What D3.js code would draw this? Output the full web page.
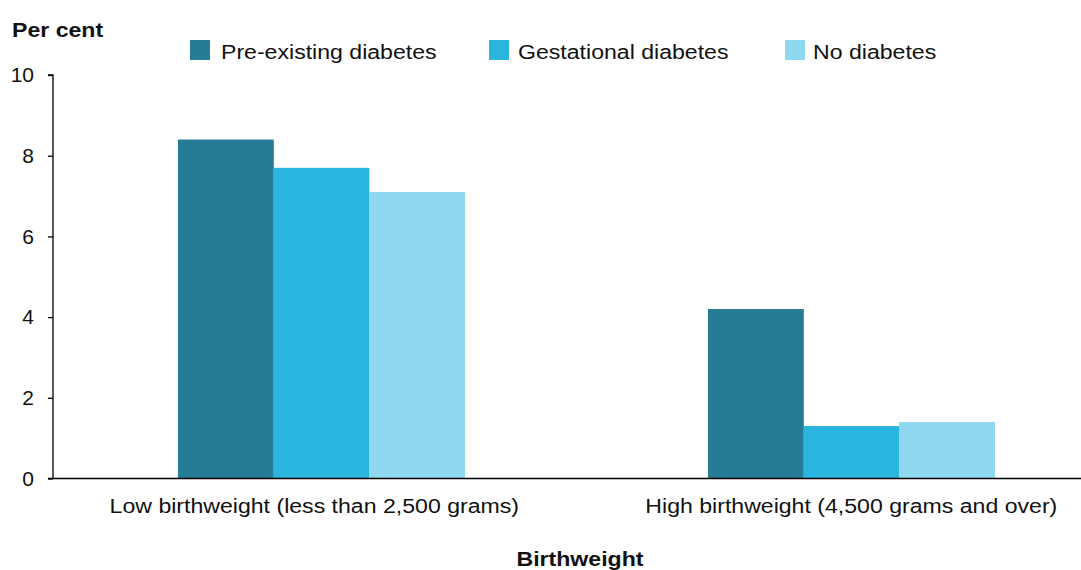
<!DOCTYPE html>
<html>
<head>
<meta charset="utf-8">
<script src="https://cdn.jsdelivr.net/npm/d3@7/dist/d3.min.js"></script>
<style>
  html, body { margin: 0; padding: 0; background: #fff; }
  svg { display: block; font-family: "Liberation Sans", Arial, sans-serif; }
</style>
</head>
<body>
<svg id="chart" width="1081" height="570"></svg>
<script>
// Birthweight outcomes by maternal diabetes status (per cent)
const categories = ["Low birthweight (less than 2,500 grams)", "High birthweight (4,500 grams and over)"];
const seriesNames = ["Pre-existing diabetes", "Gestational diabetes", "No diabetes"];
const preExisting = [8.4, 4.2];
const gestational = [7.7, 1.3];
const noDiabetes = [7.1, 1.4];
const yTicks = [0, 2, 4, 6, 8, 10];
const colours = ["#257C94", "#29B5DE", "#8ED8F0"];

const seriesValues = [preExisting, gestational, noDiabetes];
const rows = categories.map((c, i) => ({
  category: c,
  values: seriesNames.map((s, j) => ({ series: s, value: seriesValues[j][i] }))
}));

const svg = d3.select("#chart");
const textScaleX = 1.1;

const axisLeftX = 53, axisRightX = 1081;
const y = d3.scaleLinear().domain([0, 10]).range([478.5, 75]);

const x0 = d3.scaleBand()
  .domain(categories)
  .range([56.3, 1116.3])
  .paddingInner(0.459)
  .paddingOuter(0.2295);

const x1 = d3.scaleBand()
  .domain(seriesNames)
  .range([0, x0.bandwidth()])
  .padding(0);

const colour = d3.scaleOrdinal().domain(seriesNames).range(colours);

// Bars
const groups = svg.append("g").selectAll("g")
  .data(rows)
  .join("g")
  .attr("transform", d => `translate(${x0(d.category)},0)`);

groups.selectAll("rect")
  .data(d => d.values)
  .join("rect")
  .attr("x", d => x1(d.series))
  .attr("width", x1.bandwidth() + 0.3)
  .attr("y", d => y(d.value))
  .attr("height", d => y(0) - y(d.value))
  .attr("fill", d => colour(d.series));

// Y axis
const yAxis = d3.axisLeft(y).tickValues(yTicks).tickSize(5).tickPadding(14).tickFormat(d3.format("d"));
const yG = svg.append("g")
  .attr("transform", `translate(${axisLeftX},0)`)
  .call(yAxis);
yG.select(".domain").attr("d", `M-5,${y(10)}H0V${y(0)}`).attr("stroke", "#000").attr("stroke-width", 1.3);
yG.selectAll(".tick line").attr("stroke", "#000").attr("stroke-width", 1.3);
yG.selectAll(".tick text")
  .attr("fill", "#111")
  .style("font-size", "21px")
  .style("font-family", '"Liberation Sans", Arial, sans-serif');

// X axis baseline
svg.append("line")
  .attr("x1", axisLeftX - 5).attr("x2", axisRightX)
  .attr("y1", y(0)).attr("y2", y(0))
  .attr("stroke", "#000").attr("stroke-width", 1.3);

// Helper: horizontally widened text anchored at (px, py)
function label(px, py, str, opts) {
  const g = svg.append("g").attr("transform", `translate(${px},${py}) scale(${textScaleX},1)`);
  g.append("text")
    .attr("text-anchor", opts.anchor || "start")
    .attr("fill", "#111")
    .style("font-size", opts.size + "px")
    .style("font-weight", opts.bold ? "bold" : "normal")
    .text(str);
  return g;
}

// Category labels, nudged to sit under each group
const labelNudge = [-7, 0];
categories.forEach((c, i) => {
  label(x0(c) + x0.bandwidth() / 2 + labelNudge[i], 513, c, { anchor: "middle", size: 21 });
});

// Axis titles
label(12, 37, "Per cent", { size: 21, bold: true });
label(580, 566, "Birthweight", { anchor: "middle", size: 21, bold: true });

// Legend
const legendSwatchX = [190, 489, 785];
const legendTextX = [221, 518, 813];
seriesNames.forEach((s, i) => {
  svg.append("rect")
    .attr("x", legendSwatchX[i]).attr("y", 40)
    .attr("width", 20).attr("height", 20)
    .attr("fill", colour(s));
  label(legendTextX[i], 59, s, { size: 21 });
});
</script>
</body>
</html>
